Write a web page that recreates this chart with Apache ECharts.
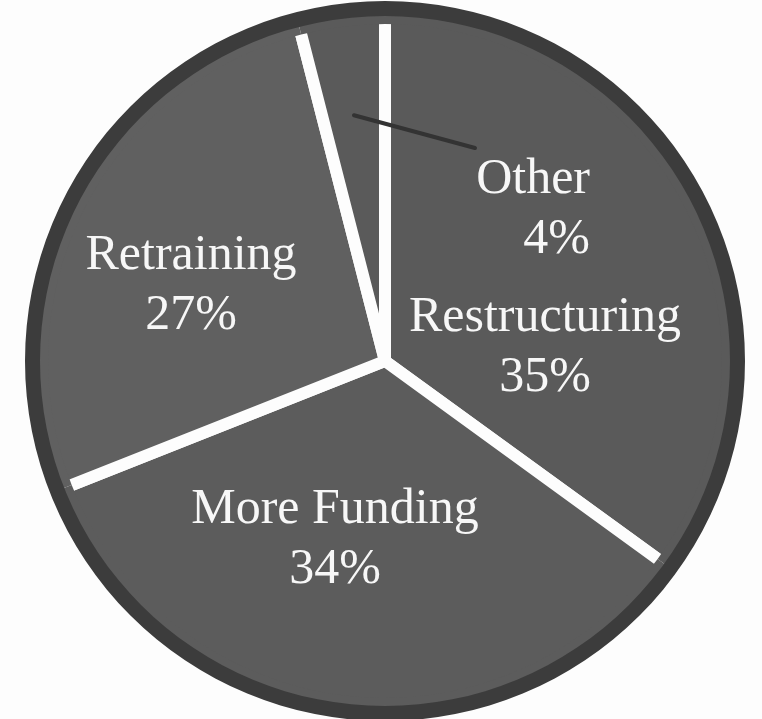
<!DOCTYPE html>
<html>
<head>
<meta charset="utf-8">
<script src="https://cdn.jsdelivr.net/npm/echarts@6/dist/echarts.min.js"></script>
<style>
  html, body { margin: 0; padding: 0; background: #fdfdfd; }
  #chart { width: 762px; height: 719px; }
</style>
</head>
<body>
<div id="chart"></div>
<script>
// ---- data ----
const categories = ['Restructuring', 'More Funding', 'Retraining', 'Other'];
const shares = [35, 34, 27, 4];

// ---- style / layout constants ----
const sliceColors = ['#5a5a5a', '#5c5c5c', '#606060', '#5a5a5a'];
const CENTER = [385, 361];
const R_OUT = 360;
const RING_W = 15;
const GAP = 12;
const labelSpots = [
  { x: 545, y: 348, align: 'center' },
  { x: 335, y: 540, align: 'center' },
  { x: 191, y: 286, align: 'center' },
  { x: 590, y: 210, align: 'right' }
];

const rInner = R_OUT - RING_W;          // inner edge of dark ring
const rSlice = rInner - 1;              // slice radius
const rCover = rSlice - GAP / 2 - 1;    // cover band inner edge

const chart = echarts.init(document.getElementById('chart'), null, { renderer: 'canvas' });

// leader line for "Other": start inside the slice along its mid angle
const total = shares.reduce((a, b) => a + b, 0);
let acc = 0;
for (let i = 0; i < 3; i++) acc += shares[i];
const midFrac = (acc + shares[3] / 2) / total;          // clockwise from top
const midAng = midFrac * 2 * Math.PI;
const rStart = 0.72 * rSlice;
const lineStart = [CENTER[0] + rStart * Math.sin(midAng), CENTER[1] - rStart * Math.cos(midAng)];
const lineEnd = [475, 148];

const sliceData = categories.map((c, i) => ({
  name: c,
  value: shares[i],
  itemStyle: { color: sliceColors[i] }
}));

chart.setOption({
  backgroundColor: '#fdfdfd',
  animation: false,
  series: [
    {
      type: 'pie',
      z: 2,
      center: CENTER,
      radius: [0, rSlice],
      startAngle: 90,
      clockwise: true,
      avoidLabelOverlap: false,
      silent: true,
      emphasis: { disabled: true },
      itemStyle: { borderColor: '#fdfdfd', borderWidth: GAP },
      label: {
        show: true,
        position: 'inner',
        formatter: '{b}\n{c}%',
        color: '#f7f7f7',
        fontFamily: 'Liberation Serif',
        fontSize: 50,
        lineHeight: 60
      },
      labelLine: { show: false },
      labelLayout: function (p) {
        const s = labelSpots[p.dataIndex];
        return { x: s.x, y: s.y, align: s.align, verticalAlign: 'middle' };
      },
      data: sliceData
    },
    {
      type: 'pie',
      z: 3,
      center: CENTER,
      radius: [rCover, rInner + 1],
      startAngle: 90,
      clockwise: true,
      silent: true,
      label: { show: false },
      labelLine: { show: false },
      emphasis: { disabled: true },
      data: sliceData
    },
    {
      type: 'pie',
      z: 4,
      center: CENTER,
      radius: [rInner, R_OUT],
      silent: true,
      label: { show: false },
      labelLine: { show: false },
      emphasis: { disabled: true },
      itemStyle: { color: '#3c3c3c' },
      data: [{ value: 1, name: 'ring' }]
    }
  ],
  graphic: [
    {
      type: 'line',
      z: 100,
      shape: { x1: lineStart[0], y1: lineStart[1], x2: lineEnd[0], y2: lineEnd[1] },
      style: { stroke: '#333333', lineWidth: 4, lineCap: 'round' }
    }
  ]
});
</script>
</body>
</html>
